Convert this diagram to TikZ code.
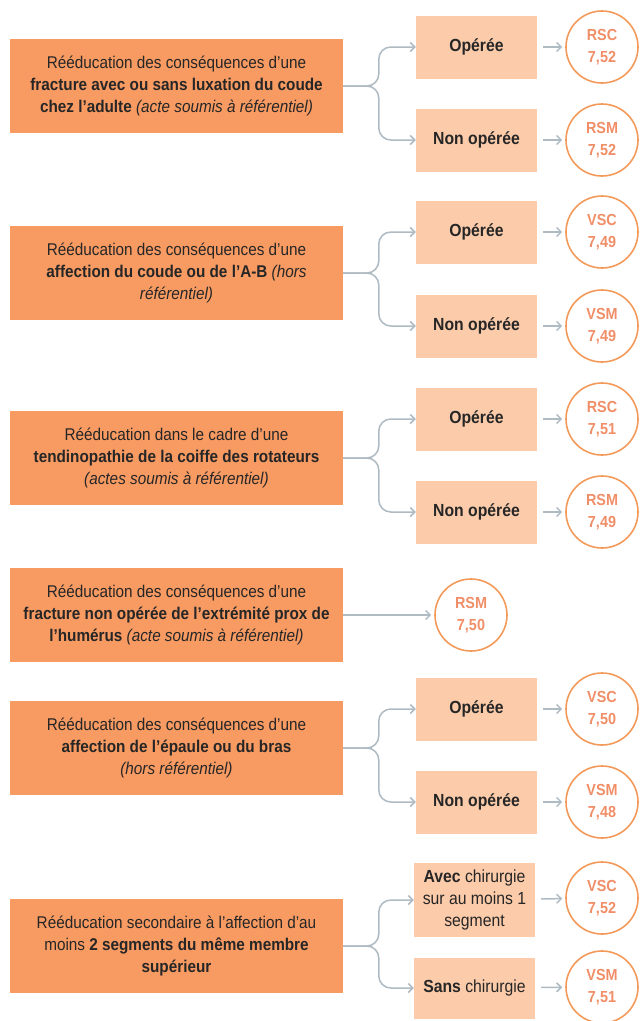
\documentclass[tikz,border=0pt]{standalone}
\usepackage{fontspec}
\setmainfont{Liberation Sans}[FakeStretch=0.9]
\usetikzlibrary{arrows.meta}
\definecolor{mainor}{HTML}{F89B63}
\definecolor{subor}{HTML}{FBCBAA}
\definecolor{ringor}{HTML}{F39A5A}
\definecolor{numor}{HTML}{F08E68}
\definecolor{linec}{HTML}{AFBBC3}
\definecolor{txt}{HTML}{262626}
\tikzset{
  mainbox/.style={fill=mainor, text=txt, minimum width=333pt, minimum height=94pt,
    inner sep=0pt, align=center, font=\fontsize{17}{22}\selectfont},
  subbox/.style={fill=subor, text=txt, minimum width=121pt, minimum height=63pt,
    inner sep=0pt, align=center, font=\fontsize{17.5}{22}\selectfont},
  result/.style={circle, draw=ringor, line width=1.6pt, minimum size=72pt, inner sep=0pt,
    text=numor, align=center, font=\bfseries\fontsize{16}{22}\selectfont},
  flow/.style={draw=linec, line width=1.5pt, -{Straight Barb[length=4.5pt,width=9pt]}},
  brace/.style={flow, rounded corners=12pt}
}
\begin{document}
\begin{tikzpicture}[x=1pt, y=-1pt]
      \useasboundingbox (0,0) rectangle (641,1021);
      \node[mainbox] (m1) at (176.5,86) {Rééducation des conséquences d’une\\
        \textbf{fracture avec ou sans luxation du coude}\\
        \textbf{chez l’adulte} \textit{(acte soumis à référentiel)}};
      \node[subbox] (o1) at (476.5,47) {\textbf{Opérée}};
      \node[subbox] (n1) at (476.5,140) {\textbf{Non opérée}};
      \node[result] (c1) at (602,47) {RSC\\7,52};
      \node[result] (d1) at (602,140) {RSM\\7,52};
      \draw[brace] (m1.east) -| ([xshift=-37pt]o1.west) -- (o1.west);
      \draw[brace] (m1.east) -| ([xshift=-37pt]n1.west) -- (n1.west);
      \draw[flow, shorten <=6pt, shorten >=3pt] (o1) -- (c1);
      \draw[flow, shorten <=6pt, shorten >=3pt] (n1) -- (d1);

      \node[mainbox] (m2) at (176.5,273) {Rééducation des conséquences d’une\\
        \textbf{affection du coude ou de l’A-B} \textit{(hors}\\
        \textit{référentiel)}};
      \node[subbox] (o2) at (476.5,232) {\textbf{Opérée}};
      \node[subbox] (n2) at (476.5,326) {\textbf{Non opérée}};
      \node[result] (c2) at (602,232) {VSC\\7,49};
      \node[result] (d2) at (602,326) {VSM\\7,49};
      \draw[brace] (m2.east) -| ([xshift=-37pt]o2.west) -- (o2.west);
      \draw[brace] (m2.east) -| ([xshift=-37pt]n2.west) -- (n2.west);
      \draw[flow, shorten <=6pt, shorten >=3pt] (o2) -- (c2);
      \draw[flow, shorten <=6pt, shorten >=3pt] (n2) -- (d2);

      \node[mainbox] (m3) at (176.5,458) {Rééducation dans le cadre d’une\\
        \textbf{tendinopathie de la coiffe des rotateurs}\\
        \textit{(actes soumis à référentiel)}};
      \node[subbox] (o3) at (476.5,419) {\textbf{Opérée}};
      \node[subbox] (n3) at (476.5,512) {\textbf{Non opérée}};
      \node[result] (c3) at (602,419) {RSC\\7,51};
      \node[result] (d3) at (602,512) {RSM\\7,49};
      \draw[brace] (m3.east) -| ([xshift=-37pt]o3.west) -- (o3.west);
      \draw[brace] (m3.east) -| ([xshift=-37pt]n3.west) -- (n3.west);
      \draw[flow, shorten <=6pt, shorten >=3pt] (o3) -- (c3);
      \draw[flow, shorten <=6pt, shorten >=3pt] (n3) -- (d3);

      \node[mainbox] (m4) at (176.5,615) {Rééducation des conséquences d’une\\
        \textbf{fracture non opérée de l’extrémité prox de}\\
        \textbf{l’humérus} \textit{(acte soumis à référentiel)}};
      \node[result] (c4) at (471,615) {RSM\\7,50};
      \draw[flow, shorten >=3pt] (m4) -- (c4);

      \node[mainbox] (m5) at (176.5,748) {Rééducation des conséquences d’une\\
        \textbf{affection de l’épaule ou du bras}\\
        \textit{(hors référentiel)}};
      \node[subbox] (o5) at (476.5,709) {\textbf{Opérée}};
      \node[subbox] (n5) at (476.5,802) {\textbf{Non opérée}};
      \node[result] (c5) at (602,709) {VSC\\7,50};
      \node[result] (d5) at (602,802) {VSM\\7,48};
      \draw[brace] (m5.east) -| ([xshift=-37pt]o5.west) -- (o5.west);
      \draw[brace] (m5.east) -| ([xshift=-37pt]n5.west) -- (n5.west);
      \draw[flow, shorten <=6pt, shorten >=3pt] (o5) -- (c5);
      \draw[flow, shorten <=6pt, shorten >=3pt] (n5) -- (d5);

      \node[mainbox] (m6) at (176.5,946) {Rééducation secondaire à l’affection d’au\\
        moins \textbf{2 segments du même membre}\\
        \textbf{supérieur}};
      \node[subbox, minimum height=74pt] (o6) at (474.5,900) {\textbf{Avec} chirurgie\\sur au moins 1\\segment};
      \node[subbox, minimum height=61pt] (n6) at (474.5,988) {\textbf{Sans} chirurgie};
      \node[result] (c6) at (602,898) {VSC\\7,52};
      \node[result] (d6) at (602,987) {VSM\\7,51};
      \draw[brace] (m6.east) -| ([xshift=-35pt]o6.west) -- (o6.west);
      \draw[brace] (m6.east) -| ([xshift=-35pt]n6.west) -- (n6.west);
      \draw[flow, shorten <=6pt, shorten >=3pt] (o6) -- (c6);
      \draw[flow, shorten <=6pt, shorten >=3pt] (n6) -- (d6);
    \end{tikzpicture}
\end{document}
